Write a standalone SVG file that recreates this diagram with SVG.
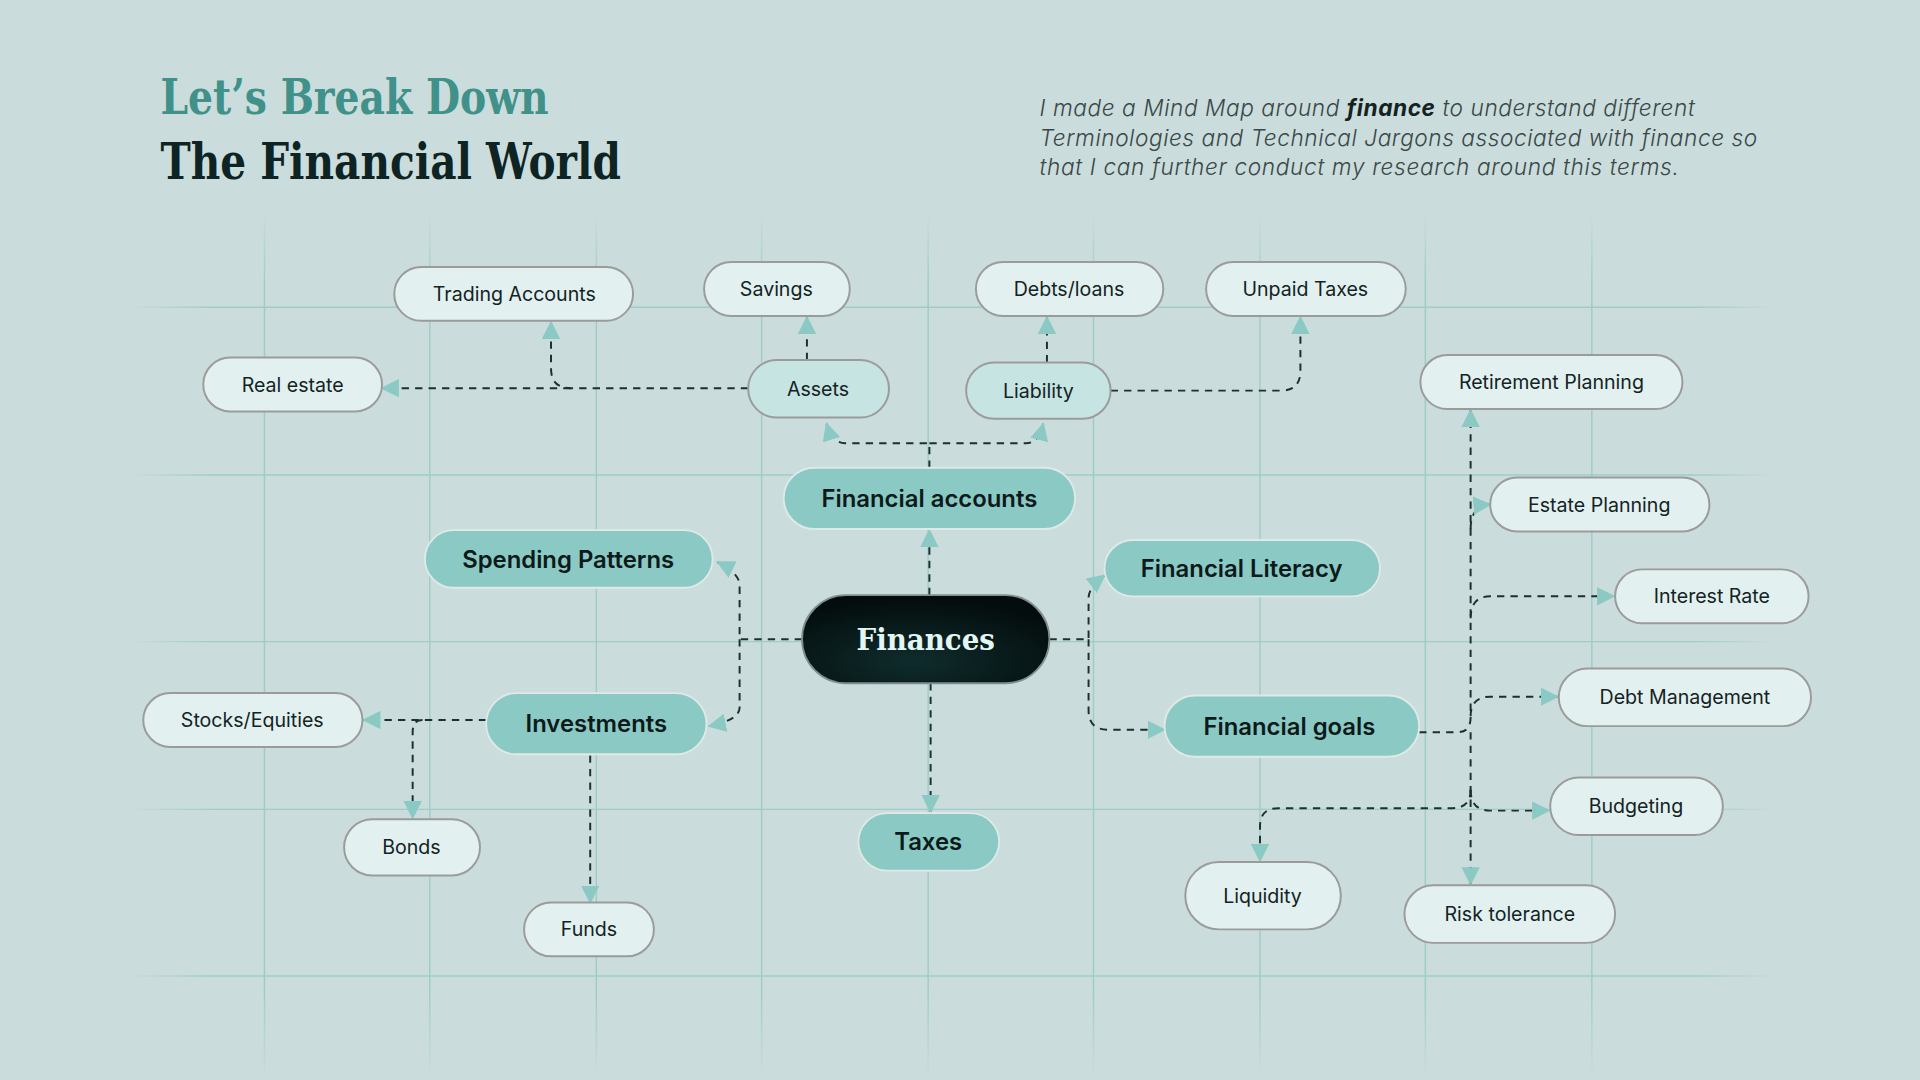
<svg xmlns="http://www.w3.org/2000/svg" width="1920" height="1080" viewBox="0 0 1920 1080">
<defs>
<style>
.leaf rect{fill:#e2f1f0;stroke:#9b9b9b;stroke-width:1.6}
.mid rect{fill:#c6e4e1;stroke:#9b9b9b;stroke-width:1.6}
.main rect{fill:#8bc9c4;stroke:#dfeae8;stroke-width:1.5}
.leaf text,.mid text{font-family:Inter,"Noto Sans",sans-serif;font-size:16px;fill:#142323;text-anchor:middle}
.main text{font-family:Inter,"Noto Sans",sans-serif;font-size:19.5px;font-weight:600;fill:#0c1a1a;text-anchor:middle}
.conn path{fill:none;stroke:#1d2f2f;stroke-width:1.6;stroke-dasharray:6 5;marker-end:url(#ah)}
.gv{stroke:url(#gvg);stroke-width:1.2}
.gh{stroke:url(#ghg);stroke-width:1.2}
.desc{font-family:Inter,"Noto Sans",sans-serif;font-size:18.5px;font-style:italic;font-weight:300;fill:#3a4848}
</style>
<linearGradient id="gvg" gradientUnits="userSpaceOnUse" x1="0" y1="175" x2="0" y2="880">
<stop offset="0" stop-color="#9ecdc8" stop-opacity="0"/>
<stop offset="0.08" stop-color="#9ecdc8" stop-opacity="1"/>
<stop offset="0.9" stop-color="#9ecdc8" stop-opacity="1"/>
<stop offset="1" stop-color="#9ecdc8" stop-opacity="0"/>
</linearGradient>
<linearGradient id="ghg" gradientUnits="userSpaceOnUse" x1="105" y1="0" x2="1450" y2="0">
<stop offset="0" stop-color="#9ecdc8" stop-opacity="0"/>
<stop offset="0.05" stop-color="#9ecdc8" stop-opacity="1"/>
<stop offset="0.95" stop-color="#9ecdc8" stop-opacity="1"/>
<stop offset="1" stop-color="#9ecdc8" stop-opacity="0"/>
</linearGradient>
<radialGradient id="fin" cx="0.45" cy="0.75" r="0.7">
<stop offset="0" stop-color="#0f2c2c"/>
<stop offset="1" stop-color="#040d0d"/>
</radialGradient>
<marker id="ah" viewBox="0 0 12 12" refX="11" refY="6" markerWidth="15" markerHeight="15" markerUnits="userSpaceOnUse" orient="auto">
<path d="M0,0 L12,6 L0,12 z" fill="#8bc9c4"/>
</marker>
</defs>
<rect width="1920" height="1080" fill="#cadcdb"/>
<g transform="scale(1.2244898)">
<g id="grid">
<line class="gv" x1="216" y1="175" x2="216" y2="880"/>
<line class="gv" x1="351" y1="175" x2="351" y2="880"/>
<line class="gv" x1="487" y1="175" x2="487" y2="880"/>
<line class="gv" x1="622" y1="175" x2="622" y2="880"/>
<line class="gv" x1="758" y1="175" x2="758" y2="880"/>
<line class="gv" x1="893" y1="175" x2="893" y2="880"/>
<line class="gv" x1="1029" y1="175" x2="1029" y2="880"/>
<line class="gv" x1="1164" y1="175" x2="1164" y2="880"/>
<line class="gv" x1="1300" y1="175" x2="1300" y2="880"/>
<line class="gh" x1="105" y1="251" x2="1450" y2="251"/>
<line class="gh" x1="105" y1="388" x2="1450" y2="388"/>
<line class="gh" x1="105" y1="524" x2="1450" y2="524"/>
<line class="gh" x1="105" y1="661" x2="1450" y2="661"/>
<line class="gh" x1="105" y1="797" x2="1450" y2="797"/>
</g>
<g id="title">
<text x="131" y="93" font-family="'DejaVu Serif',serif" font-weight="bold" font-size="39" fill="#3f9189" textLength="317" lengthAdjust="spacingAndGlyphs">Let’s Break Down</text>
<text x="131" y="146" font-family="'DejaVu Serif',serif" font-weight="bold" font-size="41" fill="#0e2424" textLength="376" lengthAdjust="spacingAndGlyphs">The Financial World</text>
</g>
<g id="description">
<text class="desc" x="849" y="95" textLength="535">I made a Mind Map around <tspan font-weight="700" fill="#142222">finance</tspan> to understand different</text>
<text class="desc" x="849" y="119" textLength="586">Terminologies and Technical Jargons associated with finance so</text>
<text class="desc" x="849" y="143" textLength="522">that I can further conduct my research around this terms.</text>
</g>
<g id="connectors" class="conn">
<path d="M759,486 V433"/>
<path d="M759,382 V362 H690 Q680,362 675,346"/>
<path d="M759,362 H838 Q848,362 852,346"/>
<path d="M659,294 V259"/>
<path d="M611,317 H466 Q450,317 450,301 V263"/>
<path d="M466,317 H312"/>
<path d="M855,296 V259"/>
<path d="M907,319 H1046 Q1062,319 1062,303 V259"/>
<path d="M655,522 H604 V478 Q604,468 586,459"/>
<path d="M604,522 V578 Q604,588 579,593"/>
<path d="M857,522 H889 V488 Q889,480 902,470"/>
<path d="M889,522 V580 Q889,596 905,596 H951"/>
<path d="M760,558 V663"/>
<path d="M397,588 H297"/>
<path d="M345,588 Q337,588 337,598 V668"/>
<path d="M482,617 V737"/>
<path d="M1159,598 H1190 Q1201,598 1201,586 V335"/>
<path d="M1201,598 V722"/>
<path d="M1201,432 Q1201,413 1217,412"/>
<path d="M1201,505 Q1201,487 1217,487 H1318"/>
<path d="M1201,585 Q1201,569 1217,569 H1272"/>
<path d="M1201,645 Q1201,662 1217,662 H1265"/>
<path d="M1201,645 Q1201,660 1186,660 H1044 Q1029,660 1029,675 V703"/>
</g>
<g id="n-trading" class="leaf"><rect x="322" y="218" width="195" height="44" rx="22"/><text x="420" y="245.8">Trading Accounts</text></g>
<g id="n-savings" class="leaf"><rect x="575" y="214" width="119" height="44" rx="22"/><text x="634" y="241.8">Savings</text></g>
<g id="n-debts" class="leaf"><rect x="797" y="214" width="153" height="44" rx="22"/><text x="873" y="241.8">Debts/loans</text></g>
<g id="n-unpaid" class="leaf"><rect x="985" y="214" width="163" height="44" rx="22"/><text x="1066" y="241.8">Unpaid Taxes</text></g>
<g id="n-realestate" class="leaf"><rect x="166" y="292" width="146" height="44" rx="22"/><text x="239" y="319.8">Real estate</text></g>
<g id="n-assets" class="mid"><rect x="611" y="294" width="115" height="47" rx="23.5"/><text x="668" y="323.3">Assets</text></g>
<g id="n-liability" class="mid"><rect x="789" y="296" width="118" height="46" rx="23"/><text x="848" y="324.8">Liability</text></g>
<g id="n-retirement" class="leaf"><rect x="1160" y="290" width="214" height="44" rx="22"/><text x="1267" y="317.8">Retirement Planning</text></g>
<g id="n-estate" class="leaf"><rect x="1217" y="390" width="179" height="44" rx="22"/><text x="1306" y="417.8">Estate Planning</text></g>
<g id="n-interest" class="leaf"><rect x="1319" y="465" width="158" height="44" rx="22"/><text x="1398" y="492.8">Interest Rate</text></g>
<g id="n-debtmgmt" class="leaf"><rect x="1273" y="546" width="206" height="47" rx="23.5"/><text x="1376" y="575.3">Debt Management</text></g>
<g id="n-budgeting" class="leaf"><rect x="1266" y="635" width="141" height="47" rx="23.5"/><text x="1336" y="664.3">Budgeting</text></g>
<g id="n-risk" class="leaf"><rect x="1147" y="723" width="172" height="47" rx="23.5"/><text x="1233" y="752.3">Risk tolerance</text></g>
<g id="n-liquidity" class="leaf"><rect x="968" y="704" width="127" height="55" rx="27.5"/><text x="1031" y="737.3">Liquidity</text></g>
<g id="n-stocks" class="leaf"><rect x="117" y="566" width="179" height="44" rx="22"/><text x="206" y="593.8">Stocks/Equities</text></g>
<g id="n-bonds" class="leaf"><rect x="281" y="669" width="111" height="46" rx="23"/><text x="336" y="697.8">Bonds</text></g>
<g id="n-funds" class="leaf"><rect x="428" y="737" width="106" height="44" rx="22"/><text x="481" y="764.8">Funds</text></g>
<g id="n-finaccounts" class="main"><rect x="640" y="382" width="238" height="50" rx="25"/><text x="759" y="414">Financial accounts</text></g>
<g id="n-spending" class="main"><rect x="347" y="433" width="235" height="47" rx="23.5"/><text x="464" y="463.5">Spending Patterns</text></g>
<g id="n-literacy" class="main"><rect x="902" y="441" width="225" height="46" rx="23"/><text x="1014" y="471">Financial Literacy</text></g>
<g id="n-investments" class="main"><rect x="397" y="566" width="180" height="50" rx="25"/><text x="487" y="598">Investments</text></g>
<g id="n-goals" class="main"><rect x="951" y="568" width="208" height="50" rx="25"/><text x="1053" y="600">Financial goals</text></g>
<g id="n-taxes" class="main"><rect x="701" y="664" width="115" height="47" rx="23.5"/><text x="758" y="694.5">Taxes</text></g>
<g id="n-finances"><rect x="655" y="486" width="202" height="72" rx="36" fill="url(#fin)" stroke="#7e8f8e" stroke-width="1.5"/><text x="756" y="531" font-family="'DejaVu Serif',serif" font-weight="bold" font-size="25" fill="#e4f6f3" text-anchor="middle" textLength="113" lengthAdjust="spacingAndGlyphs">Finances</text></g>
</g>
</svg>
